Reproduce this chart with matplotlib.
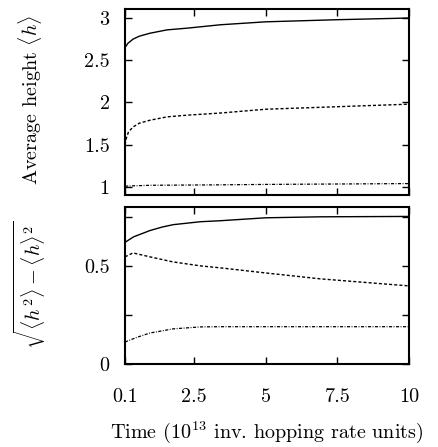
import matplotlib
matplotlib.use('Agg')
import matplotlib.pyplot as plt

plt.rcParams['font.family'] = 'serif'
plt.rcParams['font.serif'] = ['cmr10']
plt.rcParams['mathtext.fontset'] = 'cm'
plt.rcParams['axes.unicode_minus'] = False
plt.rcParams['axes.formatter.use_mathtext'] = True

# top panel: average height
t_solid = [0.1, 0.2, 0.38, 0.6, 0.97, 1.57, 2.27, 3.42, 5.0, 7.5, 10.0]
h_solid = [2.65, 2.70, 2.75, 2.785, 2.82, 2.86, 2.88, 2.92, 2.955, 2.98, 3.0]

t_dash = [0.1, 0.15, 0.22, 0.38, 0.6, 0.97, 1.57, 2.27, 3.42, 5.0, 7.5, 10.0]
h_dash = [1.5, 1.58, 1.65, 1.71, 1.755, 1.79, 1.83, 1.85, 1.875, 1.92, 1.95, 1.98]

t_dd = [0.1, 1.0, 3.4, 5.0, 7.5, 10.0]
h_dd = [1.01, 1.02, 1.025, 1.03, 1.035, 1.04]

# bottom panel: width sqrt(<h^2> - <h>^2)
w_t_solid = [0.1, 0.4, 0.97, 1.4, 1.78, 2.73, 3.42, 5.0, 6.9, 10.0]
w_solid = [0.62, 0.648, 0.68, 0.698, 0.71, 0.725, 0.73, 0.745, 0.75, 0.752]

w_t_dash = [0.1, 0.38, 0.97, 1.78, 2.73, 3.42, 5.0, 6.9, 8.7, 10.0]
w_dash = [0.546, 0.566, 0.546, 0.52, 0.5, 0.49, 0.464, 0.434, 0.413, 0.398]

w_t_dd = [0.1, 0.5, 0.97, 1.78, 2.73, 3.42, 6.9, 10.0]
w_dd = [0.112, 0.135, 0.158, 0.179, 0.189, 0.19, 0.19, 0.19]

xticks = [0.1, 2.5, 5, 7.5, 10]
xticklabels = ['0.1', '2.5', '5', '7.5', '10']

fig = plt.figure(figsize=(4.39, 4.47), dpi=100)
ax1 = fig.add_axes([0.2847, 0.5638, 0.647, 0.4161])
ax2 = fig.add_axes([0.2847, 0.1857, 0.647, 0.3512])

dash_style = (0, (2.2, 1.5))
dd_style = (0, (2.5, 1.2, 0.7, 1.2))

ax1.plot(t_solid, h_solid, color='black', lw=1.0)
ax1.plot(t_dash, h_dash, color='black', lw=1.0, linestyle=dash_style)
ax1.plot(t_dd, h_dd, color='black', lw=0.9, linestyle=dd_style)

ax2.plot(w_t_solid, w_solid, color='black', lw=1.0)
ax2.plot(w_t_dash, w_dash, color='black', lw=1.0, linestyle=dash_style)
ax2.plot(w_t_dd, w_dd, color='black', lw=0.9, linestyle=dd_style)

ax1.set_ylim(0.905, 3.107)
ax1.set_yticks([1, 1.5, 2, 2.5, 3])
ax1.set_yticklabels(['1', '1.5', '2', '2.5', '3'])
ax2.set_ylim(0, 0.80)
ax2.set_yticks([0, 0.25, 0.5, 0.75])
ax2.set_yticklabels(['0', '', '0.5', ''])

for ax in (ax1, ax2):
    ax.set_xlim(0.1, 10)
    ax.set_xticks(xticks)
    ax.tick_params(direction='in', top=True, right=True, length=5, width=1.0,
                   labelsize=14.5, pad=11)
    for s in ax.spines.values():
        s.set_linewidth(1.5)

ax1.set_xticklabels([])
ax2.set_xticklabels(xticklabels)
ax2.tick_params(axis='x', pad=17)

fig.text(0.068, 0.776, r'Average height $\langle h\rangle$', rotation=90,
         ha='center', va='center', fontsize=14.5)
fig.text(0.068, 0.362, r'$\sqrt{\langle h^2\rangle - \langle h\rangle^2}$',
         rotation=90, ha='center', va='center', fontsize=14.5)
fig.text(0.608, 0.034, r'Time ($10^{13}$ inv. hopping rate units)',
         ha='center', va='center', fontsize=14.5)

fig.savefig('out.png', dpi=100)
